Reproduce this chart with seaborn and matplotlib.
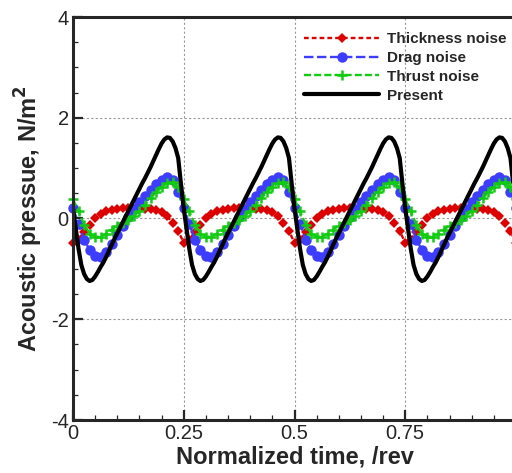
import numpy as np
import seaborn as sns
import matplotlib.pyplot as plt
from matplotlib.ticker import MultipleLocator

# ---------------------------------------------------------------------
# Data (4 blades -> 4 pulses per revolution)
# ---------------------------------------------------------------------
# marker series sampled every 0.0125 rev
t_coarse = np.linspace(0.0, 1.0, 81)

thickness = [
    -0.48, -0.42, -0.26, -0.12, 0.00, 0.08, 0.14, 0.17, 0.19, 0.20,
    0.20, 0.19, 0.19, 0.19, 0.18, 0.16, 0.12, 0.04, -0.08, -0.25,
    -0.48, -0.42, -0.26, -0.12, 0.00, 0.08, 0.14, 0.17, 0.19, 0.20,
    0.20, 0.19, 0.19, 0.19, 0.18, 0.16, 0.12, 0.04, -0.08, -0.25,
    -0.48, -0.42, -0.26, -0.12, 0.00, 0.08, 0.14, 0.17, 0.19, 0.20,
    0.20, 0.19, 0.19, 0.19, 0.18, 0.16, 0.12, 0.04, -0.08, -0.25,
    -0.48, -0.42, -0.26, -0.12, 0.00, 0.08, 0.14, 0.17, 0.19, 0.20,
    0.20, 0.19, 0.19, 0.19, 0.18, 0.16, 0.12, 0.04, -0.08, -0.25,
    -0.48,
]

drag = [
    0.20, -0.10, -0.42, -0.62, -0.75, -0.77, -0.66, -0.50, -0.33, -0.15,
    0.03, 0.18, 0.32, 0.45, 0.57, 0.68, 0.77, 0.82, 0.76, 0.52,
    0.20, -0.10, -0.42, -0.62, -0.75, -0.77, -0.66, -0.50, -0.33, -0.15,
    0.03, 0.18, 0.32, 0.45, 0.57, 0.68, 0.77, 0.82, 0.76, 0.52,
    0.20, -0.10, -0.42, -0.62, -0.75, -0.77, -0.66, -0.50, -0.33, -0.15,
    0.03, 0.18, 0.32, 0.45, 0.57, 0.68, 0.77, 0.82, 0.76, 0.52,
    0.20, -0.10, -0.42, -0.62, -0.75, -0.77, -0.66, -0.50, -0.33, -0.15,
    0.03, 0.18, 0.32, 0.45, 0.57, 0.68, 0.77, 0.82, 0.76, 0.52,
    0.20,
]

thrust = [
    0.38, 0.14, -0.12, -0.30, -0.36, -0.36, -0.30, -0.22, -0.14, -0.08,
    -0.02, 0.05, 0.15, 0.27, 0.40, 0.52, 0.62, 0.70, 0.72, 0.62,
    0.38, 0.14, -0.12, -0.30, -0.36, -0.36, -0.30, -0.22, -0.14, -0.08,
    -0.02, 0.05, 0.15, 0.27, 0.40, 0.52, 0.62, 0.70, 0.72, 0.62,
    0.38, 0.14, -0.12, -0.30, -0.36, -0.36, -0.30, -0.22, -0.14, -0.08,
    -0.02, 0.05, 0.15, 0.27, 0.40, 0.52, 0.62, 0.70, 0.72, 0.62,
    0.38, 0.14, -0.12, -0.30, -0.36, -0.36, -0.30, -0.22, -0.14, -0.08,
    -0.02, 0.05, 0.15, 0.27, 0.40, 0.52, 0.62, 0.70, 0.72, 0.62,
    0.38,
]

# present result, finer sampling (every 0.00625 rev)
t_fine = np.linspace(0.0, 1.0, 161)

present = [
    0.20, -0.20, -0.60, -0.92, -1.10, -1.20, -1.24, -1.22, -1.15, -1.06,
    -0.96, -0.87, -0.76, -0.64, -0.52, -0.40, -0.29, -0.18, -0.07, 0.04,
    0.15, 0.26, 0.37, 0.48, 0.59, 0.70, 0.80, 0.91, 1.02, 1.14,
    1.26, 1.38, 1.49, 1.57, 1.61, 1.60, 1.53, 1.40, 1.20, 0.68,
    0.20, -0.20, -0.60, -0.92, -1.10, -1.20, -1.24, -1.22, -1.15, -1.06,
    -0.96, -0.87, -0.76, -0.64, -0.52, -0.40, -0.29, -0.18, -0.07, 0.04,
    0.15, 0.26, 0.37, 0.48, 0.59, 0.70, 0.80, 0.91, 1.02, 1.14,
    1.26, 1.38, 1.49, 1.57, 1.61, 1.60, 1.53, 1.40, 1.20, 0.68,
    0.20, -0.20, -0.60, -0.92, -1.10, -1.20, -1.24, -1.22, -1.15, -1.06,
    -0.96, -0.87, -0.76, -0.64, -0.52, -0.40, -0.29, -0.18, -0.07, 0.04,
    0.15, 0.26, 0.37, 0.48, 0.59, 0.70, 0.80, 0.91, 1.02, 1.14,
    1.26, 1.38, 1.49, 1.57, 1.61, 1.60, 1.53, 1.40, 1.20, 0.68,
    0.20, -0.20, -0.60, -0.92, -1.10, -1.20, -1.24, -1.22, -1.15, -1.06,
    -0.96, -0.87, -0.76, -0.64, -0.52, -0.40, -0.29, -0.18, -0.07, 0.04,
    0.15, 0.26, 0.37, 0.48, 0.59, 0.70, 0.80, 0.91, 1.02, 1.14,
    1.26, 1.38, 1.49, 1.57, 1.61, 1.60, 1.53, 1.40, 1.20, 0.68,
    0.20,
]

x_ticks = [0, 0.25, 0.5, 0.75]
x_tick_labels = ["0", "0.25", "0.5", "0.75"]
y_ticks = [-4, -2, 0, 2, 4]
y_tick_labels = ["-4", "-2", "0", "2", "4"]

# ---------------------------------------------------------------------
# Plot
# ---------------------------------------------------------------------
sns.set_theme(style="ticks")
plt.rcParams["font.family"] = ["Liberation Sans", "DejaVu Sans"]

fig = plt.figure(figsize=(5.12, 4.73), dpi=100)
# right edge of the reference is cut off just before t = 1
ax = fig.add_axes([73 / 512, 1 - 420 / 473, 443 / 512, 403 / 473])

sns.lineplot(x=t_coarse, y=thickness, ax=ax, color="#dd0000", lw=1.7,
             linestyle=(0, (2, 1.3)), marker="D", markersize=5.5,
             markeredgewidth=0, label="Thickness noise", clip_on=False)
sns.lineplot(x=t_coarse, y=drag, ax=ax, color="#3d3dff", lw=1.7,
             linestyle=(0, (4, 1.5)), marker="o", markersize=7.5,
             markeredgewidth=0, label="Drag noise", clip_on=False)
sns.lineplot(x=t_coarse, y=thrust, ax=ax, color="#11cc11", lw=1.7,
             linestyle=(0, (3, 1.3)), marker="+", markersize=7.5,
             markeredgewidth=1.8, markeredgecolor="#11cc11",
             label="Thrust noise", clip_on=False)
sns.lineplot(x=t_fine, y=present, ax=ax, color="black", lw=3.0,
             label="Present")

ax.set_xlim(0, 1)
ax.set_ylim(-4, 4)
ax.set_xticks(x_ticks)
ax.set_xticklabels(x_tick_labels)
ax.set_yticks(y_ticks)
ax.set_yticklabels(y_tick_labels)
ax.xaxis.set_minor_locator(MultipleLocator(0.05))
ax.yaxis.set_minor_locator(MultipleLocator(0.5))
ax.tick_params(which="major", direction="in", length=7.5, width=1.6,
               labelsize=14.5, pad=3, top=False, right=False)
ax.tick_params(which="minor", direction="in", length=3.6, width=0.9,
               top=False, right=False)
ax.grid(True, which="major", color="#999999", linestyle=(0, (2, 2)), lw=0.8)
for side in ax.spines.values():
    side.set_linewidth(2.2)

ax.set_xlabel("Normalized time, /rev", fontsize=17, fontweight="bold",
              labelpad=2)
ax.set_ylabel("Acoustic pressue, N/m$^\\mathbf{2}$", fontsize=17,
              fontweight="bold", labelpad=4)

ax.legend(loc="upper left", bbox_to_anchor=(0.508, 0.978), frameon=False,
          prop={"size": 11.0, "weight": "bold"}, handlelength=4.9,
          handletextpad=0.55, labelspacing=0.32, borderaxespad=0,
          numpoints=1)

fig.savefig("out.png", dpi=100)
